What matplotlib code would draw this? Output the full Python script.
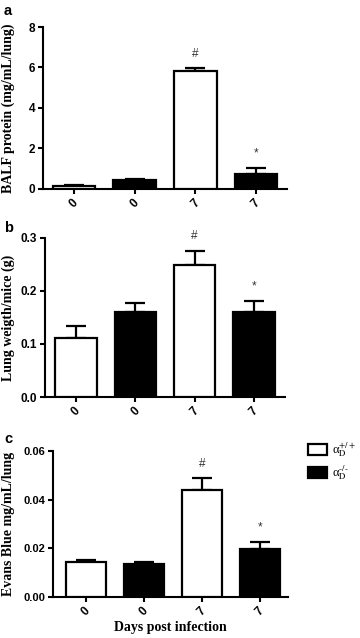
import matplotlib
matplotlib.use("Agg")
import matplotlib.pyplot as plt
import numpy as np

plt.rcParams['mathtext.fontset'] = 'stix'

tick_labels = ["0", "0", "7", "7"]
colors = ["white", "black", "white", "black"]

balf_vals = [0.15, 0.42, 5.82, 0.76]
balf_err = [0.03, 0.07, 0.16, 0.30]

lung_vals = [0.111, 0.161, 0.250, 0.160]
lung_err = [0.023, 0.016, 0.026, 0.022]

evans_vals = [0.0143, 0.0135, 0.0440, 0.0199]
evans_err = [0.0010, 0.0010, 0.0048, 0.0029]

legend_labels = [r"α$_{\mathrm{D}}^{\mathrm{+/+}}$", r"α$_{\mathrm{D}}^{\mathrm{‐/‐}}$"]

panels = [
    dict(letter="a", vals=balf_vals, err=balf_err, ylabel="BALF protein (mg/mL/lung)",
         ylim=(0, 8), yticks=[0, 2, 4, 6, 8], fmt="{:.0f}", marks={2: "#", 3: "*"}),
    dict(letter="b", vals=lung_vals, err=lung_err, ylabel="Lung weigth/mice (g)",
         ylim=(0, 0.3), yticks=[0.0, 0.1, 0.2, 0.3], fmt="{:.1f}", marks={2: "#", 3: "*"}),
    dict(letter="c", vals=evans_vals, err=evans_err, ylabel="Evans Blue mg/mL/lung",
         ylim=(0, 0.06), yticks=[0.00, 0.02, 0.04, 0.06], fmt="{:.2f}", marks={2: "#", 3: "*"}),
]

W, H = 360, 638
fig = plt.figure(figsize=(W / 100, H / 100), dpi=100)

boxes = [(43, 27, 287, 189), (45, 238, 285, 397), (53, 451, 288, 597)]
xlims = [(-0.51, 3.51), (-0.52, 3.52), (-0.57, 3.48)]
label_right = [15, 15, 15]
letter_y = [11, 228, 439]
ytick_sizes = [8.5, 8.5, 8]

serif = ['Liberation Serif', 'DejaVu Serif']
sans = ['Liberation Sans', 'DejaVu Sans']

axes = []
for p, (l, t, r, b), xl, lr, ly, ts in zip(panels, boxes, xlims, label_right, letter_y, ytick_sizes):
    ax = fig.add_axes([l / W, 1 - b / H, (r - l) / W, (b - t) / H])
    axes.append(ax)
    x = np.arange(len(p["vals"]))
    bars = ax.bar(x, p["vals"], width=0.7, color=colors, edgecolor="black", linewidth=1.6, zorder=3)
    ax.errorbar(x, p["vals"], yerr=[np.zeros(len(x)), p["err"]], fmt="none",
                ecolor="black", elinewidth=1.6, capsize=7.5, capthick=1.6, zorder=2)
    for i, m in p["marks"].items():
        ax.annotate(m, (x[i], p["vals"][i] + p["err"][i]), xytext=(0, 6),
                    textcoords="offset points", ha="center", va="bottom",
                    fontsize=8.5, color="#333333", family=sans)
    ax.set_xlim(*xl)
    ax.set_ylim(*p["ylim"])
    ax.set_yticks(p["yticks"])
    ax.set_yticklabels([p["fmt"].format(v) for v in p["yticks"]], fontsize=ts,
                       fontweight="bold", family=sans)
    ax.set_xticks(x)
    ax.set_xticklabels(tick_labels, rotation=45, ha="center", va="top", fontsize=8.5,
                       fontweight="bold", family=sans)
    ax.spines[["top", "right"]].set_visible(False)
    ax.spines[["left", "bottom"]].set_linewidth(1.5)
    ax.tick_params(width=1.5, length=3.5, direction="out", pad=2)
    ax.set_ylabel(p["ylabel"], fontsize=10, fontweight="bold", family=serif)
    ax.yaxis.set_label_coords((lr - l) / (r - l), 0.5)
    fig.text(4 / W, 1 - ly / H, p["letter"], fontsize=10.5, fontweight="bold",
             family=sans, va="center", ha="left")
    p["bars"] = bars

axes[2].set_xlabel("Days post infection", fontsize=10, fontweight="bold", family=serif, labelpad=2)

bars = panels[2]["bars"]
leg = fig.legend([bars[0], bars[1]], legend_labels,
                 loc="upper left", bbox_to_anchor=(302 / W, 1 - 434 / H), frameon=False,
                 prop={"family": serif, "size": 9}, handlelength=1.5, handleheight=1.0,
                 handletextpad=0.4, labelspacing=0.35, borderpad=0)

fig.savefig("out.png", dpi=100)
